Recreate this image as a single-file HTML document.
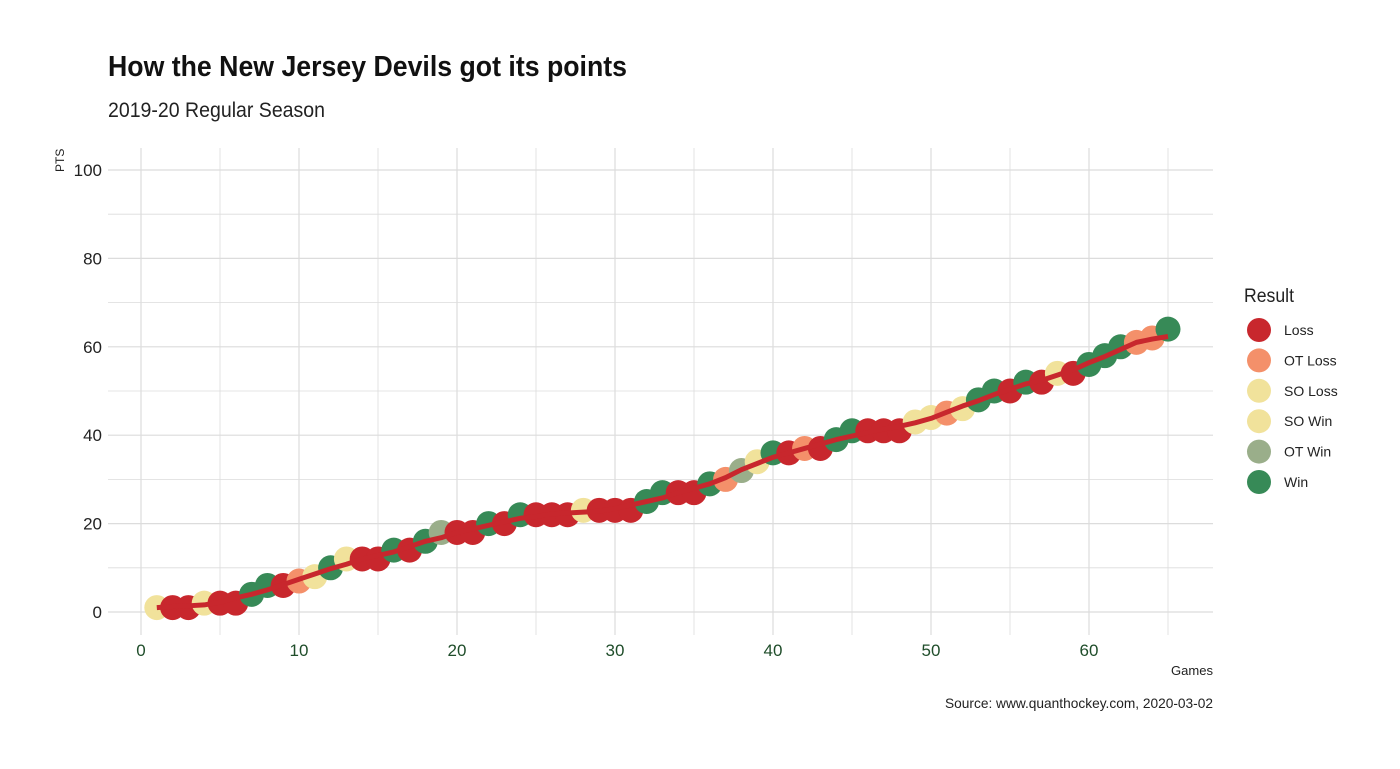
<!DOCTYPE html>
<html><head><meta charset="utf-8"><style>
body{margin:0;background:#fff}
text{font-family:"Liberation Sans",sans-serif}
</style></head><body>
<svg id="chart" width="1400" height="764" viewBox="0 0 1400 764">
<text x="108" y="76" font-size="29" font-weight="bold" fill="#111" textLength="519" lengthAdjust="spacingAndGlyphs">How the New Jersey Devils got its points</text>
<text x="108" y="117" font-size="21" fill="#222" textLength="217" lengthAdjust="spacingAndGlyphs">2019-20 Regular Season</text>
<g id="grid"></g>
<g id="axes"></g>
<g id="marks"></g>
<text transform="translate(64,172) rotate(-90)" font-size="12" fill="#222">PTS</text>
<text x="1213" y="675" font-size="13" fill="#222" text-anchor="end" textLength="42" lengthAdjust="spacingAndGlyphs">Games</text>
<text x="1213" y="708" font-size="14" fill="#222" text-anchor="end" textLength="268" lengthAdjust="spacingAndGlyphs">Source: www.quanthockey.com, 2020-03-02</text>
<g id="legend">
<text x="1244" y="302" font-size="19" fill="#222" textLength="50" lengthAdjust="spacingAndGlyphs">Result</text>
</g>
</svg>
<script>
const results=["SO Loss","Loss","Loss","SO Loss","Loss","Loss","Win","Win","Loss","OT Loss","SO Loss","Win","SO Win","Loss","Loss","Win","Loss","Win","OT Win","Loss","Loss","Win","Loss","Win","Loss","Loss","Loss","SO Loss","Loss","Loss","Loss","Win","Win","Loss","Loss","Win","OT Loss","OT Win","SO Win","Win","Loss","OT Loss","Loss","Win","Win","Loss","Loss","Loss","SO Win","SO Loss","OT Loss","SO Loss","Win","Win","Loss","Win","Loss","SO Win","Loss","Win","Win","Win","OT Loss","OT Loss","Win"];
const categories=["Loss","OT Loss","SO Loss","SO Win","OT Win","Win"];
const pointValues=[0,1,1,2,2,2];
const xTicks=[0,10,20,30,40,50,60];
const yTicks=[0,20,40,60,80,100];
const colors={"Loss":"#c8272d","OT Loss":"#f4906a","SO Loss":"#f1e29b","SO Win":"#f1e29b","OT Win":"#9aae8a","Win":"#378a57"};
const NS="http://www.w3.org/2000/svg";
const xs=g=>141+g*15.8, ys=p=>612-p*4.42;
function mk(t,a,parent){const e=document.createElementNS(NS,t);for(const k in a)e.setAttribute(k,a[k]);document.getElementById(parent).appendChild(e);return e;}
for(let v=0;v<=65;v+=5){const l=mk('line',{x1:xs(v),x2:xs(v),y1:148,y2:635,stroke:'#dcdcdc','stroke-width':v%10?0.8:1.2},'grid');

}
for(let v=0;v<=100;v+=10){const l=mk('line',{x1:108,x2:1213,y1:ys(v),y2:ys(v),stroke:'#dcdcdc','stroke-width':v%20?0.8:1.2},'grid');

}
xTicks.forEach(v=>{const t=mk('text',{x:xs(v),y:656,'font-size':17,fill:'#1f4d2a','text-anchor':'middle'},'axes');t.textContent=v;

});
yTicks.forEach(v=>{const t=mk('text',{x:102,y:ys(v)+6,'font-size':17,fill:'#222','text-anchor':'end'},'axes');t.textContent=v;

});
let cum=0;const pts=results.map(r=>{cum+=pointValues[categories.indexOf(r)];return cum;});
pts.forEach((p,i)=>{const c=mk('circle',{cx:xs(i+1),cy:ys(p),r:12.5,fill:colors[results[i]]},'marks');

});
const sm=pts.map((p,i)=>{let s=0,n=0;for(let k=-2;k<=2;k++){if(pts[i+k]!==undefined){s+=pts[i+k];n++;}}return s/n;});
const d=sm.map((p,i)=>(i?'L':'M')+xs(i+1)+','+ys(p)).join(' ');
const ln=mk('path',{d:d,fill:'none',stroke:'#c8272d','stroke-width':5,'stroke-linejoin':'round'},'marks');


categories.forEach((c,i)=>{const y=330+i*30.4;
const ci=mk('circle',{cx:1259,cy:y,r:12,fill:colors[c]},'legend');


const t=mk('text',{x:1284,y:y+5,'font-size':14,fill:'#222'},'legend');t.textContent=c;

});
</script>
</body></html>
